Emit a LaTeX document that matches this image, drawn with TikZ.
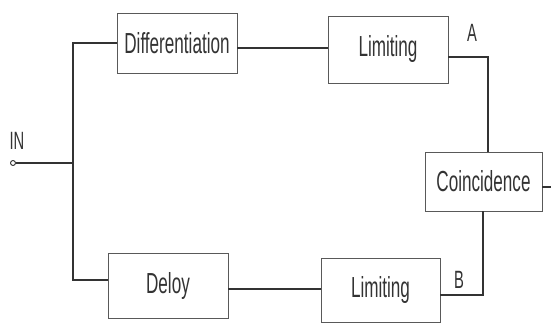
\documentclass[tikz,border=0pt]{standalone}
\usepackage{fontspec}
\setmainfont{Liberation Sans}[FakeStretch=0.59]
\begin{document}
\begin{tikzpicture}[x=1pt,y=-1pt,
  wire/.style={draw=black!80,line width=1.1pt},
  block/.style={draw=black!65,line width=0.8pt,rectangle,inner sep=0pt,
    text=black!80,font=\fontsize{29}{31}\selectfont},
  tag/.style={text=black!80,inner sep=0pt,font=\fontsize{25}{27}\selectfont}]
\useasboundingbox (0,0) rectangle (551,324);

% blocks
\node[block,minimum width=120pt,minimum height=60pt] (diff) at (177,43) {Differentiation};
\node[block,minimum width=120pt,minimum height=67pt] (limA) at (388,49.5) {Limiting};
\node[block,minimum width=117pt,minimum height=59pt] (coin) at (483.5,181.5) {Coincidence};
\node[block,minimum width=120pt,minimum height=65pt] (delay) at (168,285.5) {Deloy};
\node[block,minimum width=119pt,minimum height=64pt] (limB) at (380.5,290) {Limiting};

% input terminal and labels
\node[circle,draw=black!80,line width=0.9pt,minimum size=5pt,inner sep=0pt] (in) at (13,163) {};
\node[tag] (inlab) at (17,141) {IN};
\node[tag] (labA) at (472,33) {A};
\node[tag] (labB) at (459,280) {B};

% routing points
\coordinate (split) at (73,163);
\coordinate (wAB) at (0,48);
\coordinate (wAout) at (0,57);
\coordinate (wBout) at (0,295);
\coordinate (wD) at (0,289);
\coordinate (wIn) at (0,187);
\coordinate (out) at (551,187);
\coordinate (xA) at (488,0);
\coordinate (xB) at (483,0);

% connectors
\draw[wire] (in.east) -- (split);
\draw[wire] (split) |- (diff.west);
\draw[wire] (split) |- (delay.west |- 0,280);
\draw[wire] (diff.east |- wAB) -- (limA.west |- wAB);
\draw[wire] (delay.east |- wD) -- (limB.west |- wD);
\draw[wire] (limA.east |- wAout) -| (xA |- coin.north);
\draw[wire] (limB.east |- wBout) -| (xB |- coin.south);
\draw[wire] (coin.east |- wIn) -- (out);
\end{tikzpicture}
\end{document}
